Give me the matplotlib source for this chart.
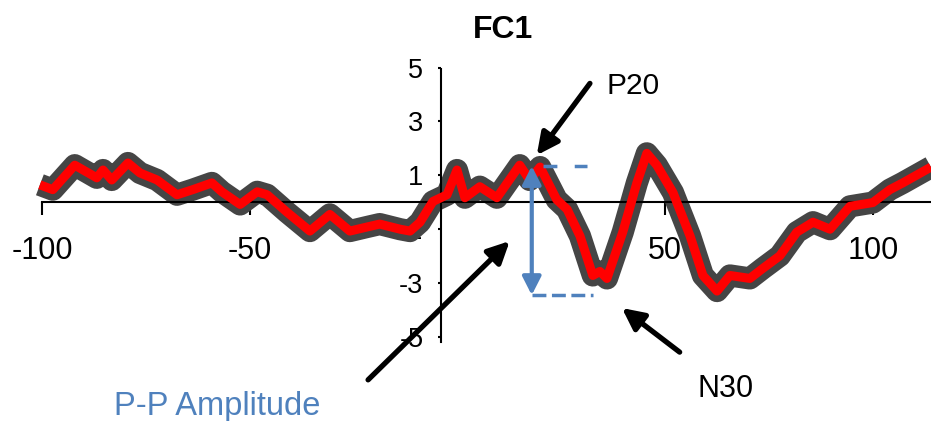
import matplotlib.pyplot as plt
import numpy as np

plt.rcParams['font.family'] = ['Liberation Sans', 'DejaVu Sans']

# Grand average at FC1 (ms, uV)
time_ms = [-100.5, -97.4, -92.1, -86.8, -85.3, -83.2, -79.3, -76.4, -72.3, -67.5,
           -63.7, -59.1, -56.7, -52.3, -48.2, -45.8, -41.0, -35.5, -30.7, -25.9,
           -21.8, -18.7, -13.8, -11.4, -9.0, -5.9, -2.5, -0.1, 1.8, 5.4,
           9.5, 15.0, 17.4, 19.9, 23.9, 26.4, 29.5, 32.6, 34.3, 36.0,
           39.8, 43.2, 45.6, 48.0, 51.9, 56.0, 59.1, 62.5, 65.6, 70.4,
           73.5, 77.6, 81.7, 85.6, 89.7, 94.5, 100.0, 104.1, 107.2, 114.0]
amplitude = [0.64, 0.46, 1.37, 0.90, 1.19, 0.82, 1.45, 1.08, 0.82, 0.27,
             0.46, 0.71, 0.38, -0.09, 0.38, 0.27, -0.38, -1.08, -0.46, -1.08,
             -0.93, -0.82, -1.01, -1.08, -0.75, 0.02, 0.27, 1.19, 0.16, 0.57,
             0.16, 1.37, 0.82, 1.30, 0.09, -0.27, -1.26, -2.73, -2.58, -2.84,
             -1.12, 0.71, 1.81, 1.37, 0.35, -1.26, -2.73, -3.31, -2.73, -2.84,
             -2.47, -2.00, -1.12, -0.75, -1.01, -0.16, -0.02, 0.46, 0.71, 1.30]

xtick_vals = [-100, -50, 50, 100]
ytick_vals = [-5, -3, -1, 1, 3, 5]

p20_peak = (19.9, 1.34)
n30_trough = (17.9, -3.46)

fig = plt.figure(figsize=(9.31, 4.21), dpi=100)
ax = fig.add_axes([0, 0, 1, 1])
ax.set_xlim(-110.1, 114.0)
ax.set_ylim(-8.14, 7.51)

# SEM band drawn as a wide grey stroke, mean in red
ax.plot(time_ms, amplitude, color='#454545', lw=16, solid_joinstyle='round',
        solid_capstyle='butt', zorder=2)
ax.plot(time_ms, amplitude, color='#ff0000', lw=6.5, solid_joinstyle='round',
        solid_capstyle='butt', zorder=3)

ax.spines['top'].set_visible(False)
ax.spines['right'].set_visible(False)
ax.spines['left'].set_position(('data', -4))
ax.spines['bottom'].set_position(('data', 0))
ax.spines['left'].set_bounds(-5.2, 4.95)
ax.spines['bottom'].set_bounds(-100, 114)
ax.spines['left'].set_linewidth(1.5)
ax.spines['bottom'].set_linewidth(1.5)

ax.set_xticks(xtick_vals)
ax.set_xticklabels([str(v) for v in xtick_vals])
ax.set_yticks(ytick_vals)
ax.set_yticklabels([str(v) for v in ytick_vals])
ax.tick_params(axis='x', direction='out', length=9.5, width=1.5, labelsize=22, pad=15)
ax.tick_params(axis='y', direction='out', length=2.5, width=1.5, labelsize=19.5, pad=10)

ax.text(10.95, 6.4, 'FC1', fontsize=23, fontweight='bold', ha='center', va='center')

# peak-to-peak amplitude marker
blue = '#4f81bd'
ax.plot([20.6, 31.2], [p20_peak[1], p20_peak[1]], color=blue, lw=2.5,
        dashes=(4, 5), zorder=4)
ax.plot([n30_trough[0], 32.6], [n30_trough[1], n30_trough[1]], color=blue, lw=2.5,
        dashes=(4, 1.6), zorder=4)
ax.annotate('', xy=(n30_trough[0], p20_peak[1]), xytext=(n30_trough[0], n30_trough[1]),
            arrowprops=dict(arrowstyle='<|-|>,head_length=0.55,head_width=0.28',
                            mutation_scale=20, color=blue, lw=3, shrinkA=0, shrinkB=0),
            zorder=5)

black_arrow = dict(arrowstyle='-|>,head_length=0.65,head_width=0.32', mutation_scale=20,
                   color='black', lw=3.8, shrinkA=0, shrinkB=0)
ax.annotate('', xy=(19.1, 1.74), xytext=(31.9, 4.41), arrowprops=black_arrow,
            annotation_clip=False, zorder=6)
ax.annotate('', xy=(12.6, -1.45), xytext=(-21.5, -6.61), arrowprops=black_arrow,
            annotation_clip=False, zorder=6)
ax.annotate('', xy=(39.6, -3.94), xytext=(53.5, -5.58), arrowprops=black_arrow,
            annotation_clip=False, zorder=6)

ax.text(36.0, 4.3, 'P20', fontsize=21.5, ha='left', va='center')
ax.text(57.9, -6.95, 'N30', fontsize=22, ha='left', va='center')
ax.text(-82.6, -7.6, 'P-P Amplitude', fontsize=23.5, color=blue, ha='left', va='center')

fig.savefig('out.png', dpi=100)
